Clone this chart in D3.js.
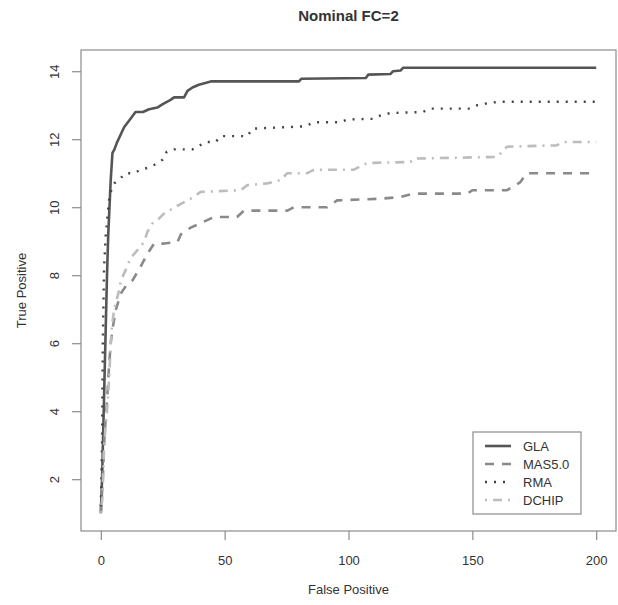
<!DOCTYPE html>
<html>
<head>
<meta charset="utf-8">
<script src="https://cdn.jsdelivr.net/npm/d3@7"></script>
<style>
  body { margin: 0; background: #fff; }
  text { font-family: "Liberation Sans", Arial, sans-serif; fill: #333; }
</style>
</head>
<body>
<div id="chart"></div>
<script>
// ROC-like curves, values
var glaX  = [0, 0.5, 1, 1.5, 2, 2.5, 3, 3.5, 4, 4.7, 5.5, 6.5, 7.8, 9.4, 12, 14, 17, 19.5, 22.8, 25, 28, 29.6, 33.6, 35, 37, 39.6, 44.4, 80, 81, 107, 108, 117, 118, 121, 122, 200];
var glaY  = [1, 2, 3.5, 5, 6.5, 8, 9.2, 10, 10.8, 11.6, 11.7, 11.9, 12.1, 12.35, 12.6, 12.8, 12.8, 12.88, 12.93, 13.03, 13.15, 13.23, 13.23, 13.42, 13.52, 13.6, 13.7, 13.7, 13.78, 13.8, 13.9, 13.92, 14.0, 14.02, 14.1, 14.1];

var masX  = [0, 0.8, 1.5, 2.5, 3.3, 4, 4.7, 6, 8.1, 10.8, 12.8, 16, 18.8, 21.5, 25.5, 31, 32.3, 36.3, 40, 45.7, 55, 57.8, 75.3, 78, 91.4, 95.4, 113, 121, 126.3, 148, 150, 164, 169.4, 172, 200];
var masY  = [1, 2, 3.3, 4.3, 5.3, 6, 6.4, 6.97, 7.46, 7.76, 7.85, 8.24, 8.63, 8.93, 8.93, 8.98, 9.2, 9.4, 9.52, 9.71, 9.71, 9.9, 9.9, 10, 10, 10.2, 10.25, 10.3, 10.4, 10.4, 10.5, 10.5, 10.74, 11, 11];

var rmaX  = [0, 0.5, 0.8, 1.3, 2, 3.3, 4, 5.4, 7.8, 10, 13.4, 16, 19.5, 22.6, 25, 26.6, 29.6, 37, 39.6, 42.3, 46.4, 48.4, 59.2, 61.2, 82.7, 86, 96.8, 99.5, 110, 113, 117, 130, 133, 149, 152, 157, 161, 200];
var rmaY  = [1.2, 3, 6, 8.2, 9.2, 10.2, 10.45, 10.7, 10.84, 11, 11, 11.1, 11.17, 11.28, 11.4, 11.63, 11.7, 11.7, 11.8, 11.92, 11.92, 12.09, 12.09, 12.31, 12.38, 12.5, 12.5, 12.58, 12.6, 12.7, 12.77, 12.8, 12.9, 12.9, 13, 13.07, 13.1, 13.1];

var dchipX = [0, 0.7, 1.3, 2.7, 3.4, 4, 4.5, 5.4, 7.4, 8.1, 10, 12, 14.8, 17.5, 18.8, 20.8, 22.9, 25.5, 29, 32.3, 36.3, 40.3, 56.5, 59.2, 67.2, 72.6, 75.3, 83.3, 86, 102, 107.5, 125, 126.3, 160, 164, 184, 186.8, 200];
var dchipY = [1, 1.5, 3, 4.2, 5, 6, 6.5, 7, 7.56, 7.85, 8.15, 8.5, 8.74, 8.98, 9.27, 9.52, 9.62, 9.81, 9.96, 10.1, 10.25, 10.45, 10.5, 10.65, 10.7, 10.8, 11, 11, 11.1, 11.1, 11.3, 11.33, 11.43, 11.48, 11.78, 11.82, 11.92, 11.92];

var seriesNames = ["GLA", "MAS5.0", "RMA", "DCHIP"];
var xTicks = [0, 50, 100, 150, 200];
var yTicks = [2, 4, 6, 8, 10, 12, 14];

var width = 618,
    height = 605,
    margin = {top: 50, right: 2, bottom: 74, left: 81};

var svg = d3.select("#chart")
      .append("svg")
      .attr("width", width)
      .attr("height", height);

// R style: data range padded by 4%
var x = d3.scaleLinear().domain([-8, 208]).range([margin.left, width - margin.right]);
var y = d3.scaleLinear().domain([0.476, 14.624]).range([height - margin.bottom, margin.top]);

var series = [
  {name: "GLA",    xs: glaX,   ys: glaY,   color: "#555", dash: null,        w: 2.6},
  {name: "MAS5.0", xs: masX,   ys: masY,   color: "#8a8a8a", dash: "9,8",    w: 2.6},
  {name: "RMA",    xs: rmaX,   ys: rmaY,   color: "#444", dash: "2,7",       w: 2.4},
  {name: "DCHIP",  xs: dchipX, ys: dchipY, color: "#bdbdbd", dash: "2,6,9,6", w: 2.6}
];

var line = d3.line()
    .x(function(d) { return x(d[0]); })
    .y(function(d) { return y(d[1]); });

series.forEach(function(s) {
  var pts = s.xs.map(function(v, i) { return [v, s.ys[i]]; });
  svg.append("path")
    .attr("d", line(pts))
    .attr("fill", "none")
    .attr("stroke", s.color)
    .attr("stroke-width", s.w)
    .attr("stroke-dasharray", s.dash)
    .attr("stroke-linejoin", "round");
});

// box around the plot
svg.append("rect")
  .attr("x", x(-8))
  .attr("y", y(14.624))
  .attr("width", x(208) - x(-8))
  .attr("height", y(0.476) - y(14.624))
  .attr("fill", "none")
  .attr("stroke", "#8c8c8c")
  .attr("stroke-width", 1.2);

// x axis
var xAxis = svg.append("g")
  .attr("transform", "translate(0," + y(0.476) + ")")
  .call(d3.axisBottom(x).tickValues(xTicks).tickSize(9).tickPadding(16));

// y axis
var yAxis = svg.append("g")
  .attr("transform", "translate(" + x(-8) + ",0)")
  .call(d3.axisLeft(y).tickValues(yTicks).tickSize(9).tickPadding(8));

[xAxis, yAxis].forEach(function(g) {
  g.select(".domain").remove();
  g.selectAll(".tick line").attr("stroke", "#8c8c8c").attr("stroke-width", 1.2);
  g.selectAll(".tick text")
    .attr("fill", "#333")
    .style("font-size", "13px")
    .style("font-family", "'Liberation Sans', Arial, sans-serif");
});

// y labels run along the axis
yAxis.selectAll(".tick text")
  .attr("x", null).attr("dy", null)
  .attr("text-anchor", "middle")
  .attr("transform", "translate(-22,0) rotate(-90)");

// title and axis titles
svg.append("text")
  .attr("x", (x(-8) + x(208)) / 2)
  .attr("y", 21)
  .attr("text-anchor", "middle")
  .style("font-size", "15px")
  .style("font-weight", "bold")
  .text("Nominal FC=2");

svg.append("text")
  .attr("x", (x(-8) + x(208)) / 2)
  .attr("y", 594)
  .attr("text-anchor", "middle")
  .style("font-size", "13px")
  .text("False Positive");

svg.append("text")
  .attr("transform", "translate(26," + (y(0.476) + y(14.624)) / 2 + ") rotate(-90)")
  .attr("text-anchor", "middle")
  .style("font-size", "13px")
  .text("True Positive");

// legend
var lg = svg.append("g");
lg.append("rect")
  .attr("x", 473).attr("y", 432)
  .attr("width", 108).attr("height", 82)
  .attr("fill", "#fff")
  .attr("stroke", "#8c8c8c")
  .attr("stroke-width", 1.2);

series.forEach(function(s, i) {
  var ly = 446 + i * 18;
  lg.append("line")
    .attr("x1", 485).attr("x2", 511)
    .attr("y1", ly).attr("y2", ly)
    .attr("stroke", s.color)
    .attr("stroke-width", s.w)
    .attr("stroke-dasharray", s.dash);
  lg.append("text")
    .attr("x", 523).attr("y", ly + 5)
    .style("font-size", "13px")
    .text(seriesNames[i]);
});
</script>
</body>
</html>
